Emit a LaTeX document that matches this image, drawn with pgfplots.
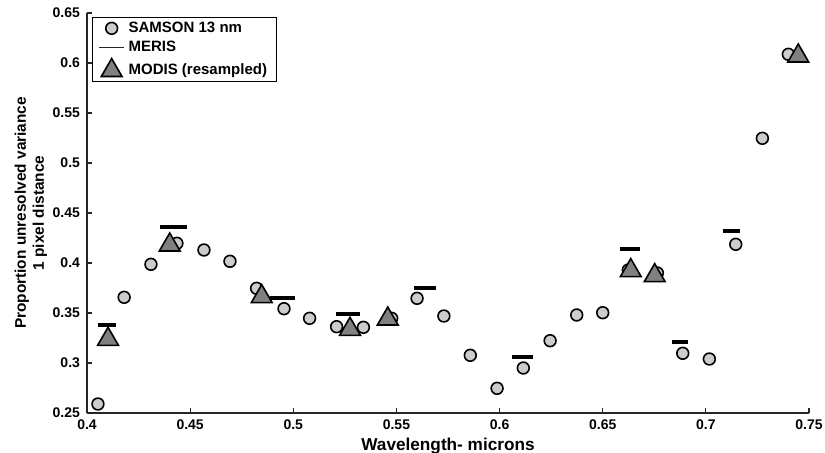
\documentclass[border=0pt]{standalone}
\usepackage{fontspec}
\setmainfont{Liberation Sans}
\usepackage{pgfplots}
\pgfplotsset{compat=1.18}
\definecolor{samsonfill}{HTML}{CCCCCC}
\definecolor{modisfill}{HTML}{808080}
\begin{document}
\begin{tikzpicture}
\begin{axis}[
  width=361pt, height=200pt, scale only axis,
  xmin=0.4, xmax=0.75, ymin=0.25, ymax=0.65,
  axis x line*=bottom, axis y line*=left,
  axis line style={black!85, line width=0.55pt, -},
  xtick={0.4,0.45,0.5,0.55,0.6,0.65,0.7,0.75},
  ytick={0.25,0.3,0.35,0.4,0.45,0.5,0.55,0.6,0.65},
  scaled ticks=false,
  /pgf/number format/fixed,
  /pgf/number format/assume math mode=true,
  tick align=inside, major tick length=2.7pt,
  tick style={black!85, line width=0.55pt},
  tick label style={font=\bfseries\fontsize{7}{8}\selectfont},
  xlabel={Wavelength- microns},
  xlabel style={font=\bfseries\fontsize{8.6}{10}\selectfont, yshift=3pt},
  ylabel={Proportion unresolved variance\\1 pixel distance},
  ylabel style={align=center, font=\bfseries\fontsize{7.7}{9}\selectfont, yshift=-4pt},
  clip=false,
  legend cell align=left,
  legend style={at={(0.007,0.99)}, anchor=north west, draw=black, line width=0.6pt,
    font=\bfseries\fontsize{7.5}{8}\selectfont, row sep=1pt,
    inner xsep=2.8pt, inner ysep=1pt,
    nodes={inner xsep=1.8pt, inner ysep=1pt}},
]
\addplot[only marks, mark=*, mark size=2.95pt,
  mark options={fill=samsonfill, draw=black, line width=0.8pt},
  legend image code/.code={\draw[mark repeat=2,mark phase=2] plot coordinates {(0cm,0cm)(0.225cm,0cm)(0.45cm,0cm)};}] coordinates {
(0.4053,0.2590) (0.4180,0.3657) (0.4310,0.3987) (0.4436,0.4197) (0.4567,0.4130)
(0.4693,0.4017) (0.4822,0.3747) (0.4955,0.3543) (0.5079,0.3447) (0.5210,0.3363)
(0.5340,0.3357) (0.5477,0.3447) (0.5600,0.3647) (0.5730,0.3470) (0.5858,0.3077)
(0.5988,0.2747) (0.6115,0.2950) (0.6245,0.3223) (0.6374,0.3480) (0.6500,0.3503)
(0.6624,0.3930) (0.6765,0.3900) (0.6888,0.3097) (0.7017,0.3040) (0.7145,0.4187)
(0.7274,0.5247) (0.7400,0.6087)
};
\addlegendentry{SAMSON 13 nm}
\addplot[black, line width=2pt, unbounded coords=jump,
  legend image code/.code={\draw[black!85, line width=0.6pt] (0cm,0cm) -- (0.45cm,0cm);}] coordinates {
(0.4051,0.3380) (0.4143,0.3380) (0.42,nan)
(0.4354,0.4357) (0.4486,0.4357) (0.46,nan)
(0.4887,0.3650) (0.5008,0.3650) (0.51,nan)
(0.5206,0.3490) (0.5325,0.3490) (0.54,nan)
(0.5587,0.3750) (0.5692,0.3750) (0.58,nan)
(0.6059,0.3057) (0.6164,0.3057) (0.63,nan)
(0.6584,0.4140) (0.6681,0.4140) (0.675,nan)
(0.6834,0.3207) (0.6915,0.3207) (0.70,nan)
(0.7081,0.4320) (0.7165,0.4320)
};
\addlegendentry{MERIS}
\addplot[only marks, mark=triangle*, mark size=6pt,
  mark options={fill=modisfill, draw=black, line width=0.8pt},
  legend image code/.code={\draw[mark repeat=2,mark phase=2] plot coordinates {(0cm,0cm)(0.225cm,0cm)(0.45cm,0cm)};}] coordinates {
(0.4102,0.3237) (0.4401,0.4180) (0.4847,0.3664) (0.5275,0.3337)
(0.5458,0.3440) (0.6636,0.3924) (0.6752,0.3874) (0.7448,0.6070)
};
\addlegendentry{MODIS (resampled)}
\coordinate (LL) at (rel axis cs:0,0);
\coordinate (UR) at (rel axis cs:1,1);
\end{axis}
\pgfresetboundingbox
\path ([shift={(-43.5pt,-19.5pt)}]LL) rectangle ([shift={(8pt,6.5pt)}]UR);
\end{tikzpicture}
\end{document}
